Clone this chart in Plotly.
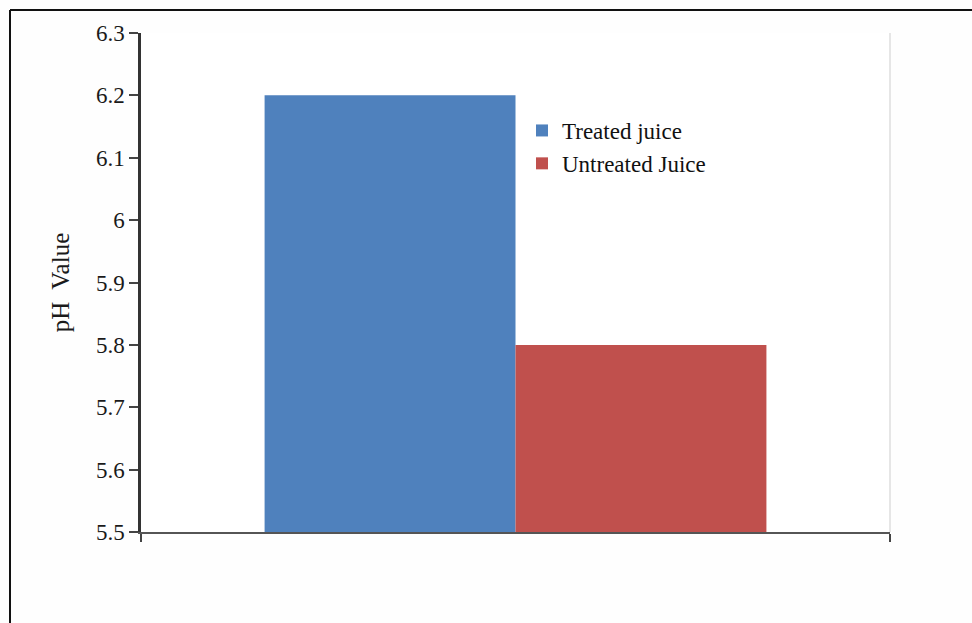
import plotly.graph_objects as go

# Data
category = ["Juice"]
series_names = ["Treated juice", "Untreated Juice"]
series_values = [[6.2], [5.8]]
series_colors = ["#4F81BD", "#C0504D"]
y_ticks = [5.5, 5.6, 5.7, 5.8, 5.9, 6.0, 6.1, 6.2, 6.3]
y_tick_text = ["5.5", "5.6", "5.7", "5.8", "5.9", "6", "6.1", "6.2", "6.3"]

W, H = 972, 623
L, R, T, B = 141, 82, 33, 91
pw, ph = W - L - R, H - T - B


def px_x(x):
    return (x - L) / pw


def px_y(y):
    return (H - B - y) / ph


FONT = "Liberation Serif, Times New Roman, serif"

fig = go.Figure()
for name, vals, col in zip(series_names, series_values, series_colors):
    fig.add_trace(go.Bar(
        x=category, y=vals, name=name,
        marker=dict(color=col, line=dict(width=0)),
    ))

fig.update_layout(
    width=W, height=H,
    margin=dict(l=L, r=R, t=T, b=B),
    paper_bgcolor="#fefefe",
    plot_bgcolor="#ffffff",
    barmode="group",
    bargap=0.33,
    bargroupgap=0,
    font=dict(family=FONT, color="#222222", size=20),
    showlegend=True,
    legend=dict(
        x=px_x(522), y=px_y(109), xanchor="left", yanchor="top",
        bgcolor="rgba(0,0,0,0)",
        font=dict(family=FONT, size=23, color="#111111"),
        itemwidth=30,
        tracegroupgap=0,
    ),
    xaxis=dict(
        range=[-0.5, 0.5],
        showticklabels=False,
        ticks="outside", tickson="boundaries", ticklen=8, tickwidth=2,
        tickcolor="#444444",
        showline=True, linecolor="#555555", linewidth=1.5,
        showgrid=False, zeroline=False,
    ),
    yaxis=dict(
        range=[5.5, 6.3],
        tickvals=y_ticks, ticktext=y_tick_text,
        ticks="outside", ticklen=9, tickwidth=1.5, tickcolor="#444444",
        showline=True, linecolor="#333333", linewidth=2.5,
        showgrid=False, zeroline=False,
        tickfont=dict(family=FONT, size=23, color="#1a1a1a"),
        title=dict(text="pH  Value", font=dict(family=FONT, size=25, color="#1a1a1a"), standoff=20),
    ),
)

# Faint right edge of the plot area
fig.add_shape(type="line", xref="paper", yref="paper",
              x0=px_x(890), x1=px_x(890), y0=px_y(33), y1=px_y(532),
              line=dict(color="#e6e6e6", width=2), layer="below")

# Figure frame (top and left edges)
fig.add_shape(type="line", xref="paper", yref="paper",
              x0=px_x(10), x1=px_x(975), y0=px_y(10), y1=px_y(10),
              line=dict(color="#111111", width=2))
fig.add_shape(type="line", xref="paper", yref="paper",
              x0=px_x(10), x1=px_x(10), y0=px_y(10), y1=px_y(630),
              line=dict(color="#111111", width=2))

fig.write_html("out.html")
